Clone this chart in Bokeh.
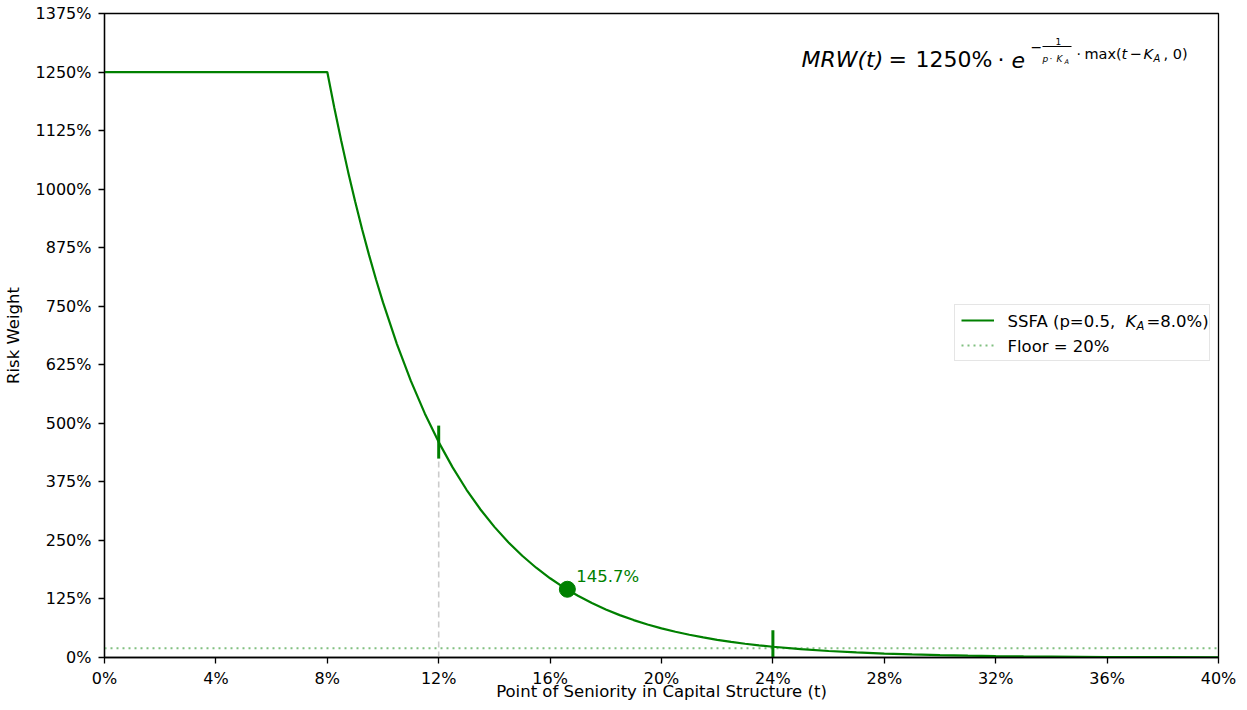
import math
from bokeh.plotting import figure
from bokeh.models import (Label, Legend, LegendItem, FixedTicker, PrintfTickFormatter,
                          BoxAnnotation, Range1d)
from bokeh.embed import file_html
from bokeh.resources import INLINE

# ---------------- data ----------------
t_pct = [0, 8, 8.25, 8.5, 8.75, 9, 9.25, 9.5, 9.75, 10, 10.5, 11, 11.5, 12, 12.5, 13,
         13.5, 14, 14.5, 15, 15.5, 16, 16.5, 17, 17.5, 18, 18.5, 19, 19.5, 20, 20.5,
         21, 21.5, 22, 22.5, 23, 23.5, 24, 25, 26, 27, 28, 29, 30, 31, 32, 33, 34,
         36, 38, 40]
rw_pct = [1250, 1250, 1174.3, 1103.1, 1036.3, 973.5, 914.5, 859.1, 807.0, 758.2, 669.1,
          590.5, 521.1, 459.9, 405.9, 358.1, 316.0, 278.9, 246.1, 217.2, 191.7, 169.2,
          149.3, 131.7, 116.3, 102.6, 90.5, 79.9, 70.5, 62.2, 54.9, 48.5, 42.8, 37.7,
          33.3, 29.4, 25.9, 22.9, 17.8, 13.9, 10.8, 8.4, 6.6, 5.1, 4.0, 3.1, 2.4, 1.9,
          1.1, 0.7, 0.4]
floor_rw = 20
x_extent = [0, 40]
tranche_t = [12, 24]          # attachment / detachment marks
tranche_rw = [459.9, 22.9]
point_t = [16.62]
point_rw = [145.7]
point_text = "145.7%"
x_ticks = [0, 4, 8, 12, 16, 20, 24, 28, 32, 36, 40]
y_ticks = [0, 125, 250, 375, 500, 625, 750, 875, 1000, 1125, 1250, 1375]

GREEN = "#008000"
FONT = "DejaVu Sans"

# ---------------- figure ----------------
FL, FT, FW, FH = 105, 14, 1114, 644   # frame in page px (for text placement helpers)
p = figure(frame_width=FW, frame_height=FH, min_border_left=97, min_border_right=20,
           min_border_top=13, min_border_bottom=40,
           x_range=Range1d(0, 40), y_range=Range1d(0, 1375),
           output_backend="svg", toolbar_location=None)
p.background_fill_color = "white"
p.border_fill_color = "white"
p.outline_line_color = "black"
p.outline_line_width = 1.3
p.xgrid.visible = False
p.ygrid.visible = False

def dx(px):
    return (px - FL) * 40.0 / FW

def dy(py):
    return (FT + FH - py) * 1375.0 / FH

for ax in (p.xaxis[0], p.yaxis[0]):
    ax.axis_line_width = 1.3
    ax.major_tick_line_width = 1.3
    ax.major_tick_out = 6
    ax.major_tick_in = 0
    ax.minor_tick_out = 0
    ax.minor_tick_in = 0
    ax.major_label_text_font = FONT
    ax.major_label_text_font_size = "16px"
    ax.major_label_text_color = "black"
    ax.axis_label_text_font = FONT
    ax.axis_label_text_font_size = "16.5px"
    ax.axis_label_text_font_style = "normal"
    ax.axis_label_text_color = "black"
    ax.formatter = PrintfTickFormatter(format="%d%%")

p.xaxis[0].ticker = FixedTicker(ticks=x_ticks)
p.yaxis[0].ticker = FixedTicker(ticks=y_ticks)
p.xaxis[0].axis_label = "Point of Seniority in Capital Structure (t)"
p.yaxis[0].axis_label = "Risk Weight"
p.xaxis[0].major_label_standoff = 5
p.xaxis[0].axis_label_standoff = -9
p.yaxis[0].major_label_standoff = 7
p.yaxis[0].axis_label_standoff = 10

# ---------------- glyphs ----------------
r_floor = p.line(x=x_extent, y=[floor_rw, floor_rw], line_color="#80c080", line_width=2,
                 line_dash="2 4")
p.segment(x0=[tranche_t[0]], y0=[0], x1=[tranche_t[0]], y1=[tranche_rw[0]],
          line_color="#cccccc", line_width=1.6, line_dash="6 4")
r_curve = p.line(x=t_pct, y=rw_pct, line_color=GREEN, line_width=2.2)
p.scatter(x=tranche_t, y=tranche_rw, marker="dash", angle=math.pi / 2, size=33,
          line_color=GREEN, line_width=3)
p.scatter(x=point_t, y=point_rw, marker="circle", size=16, fill_color=GREEN,
          line_color=GREEN)
p.add_layout(Label(x=point_t[0], y=point_rw[0], x_offset=9, y_offset=13, text=point_text,
                   text_font=FONT, text_font_size="16.5px", text_color=GREEN,
                   text_baseline="middle"))

# ---------------- legend (glyph samples by Bokeh, texts overlaid) ----------------
legend = Legend(items=[LegendItem(label=" ", renderers=[r_curve]),
                       LegendItem(label=" ", renderers=[r_floor])],
                location=(850, 296), glyph_width=33, glyph_height=18, label_height=18,
                label_width=195, label_standoff=14, padding=6, spacing=7, margin=0,
                border_line_color="#cccccc", border_line_width=1,
                background_fill_alpha=0.0, label_text_font_size="16.5px")
p.add_layout(legend)

def txt(s, px, py, size, style="normal", color="black"):
    # py is the intended text baseline (page px); place by the middle of the em box
    ymid = py - 0.36 * size
    p.add_layout(Label(x=dx(px), y=dy(ymid), text=s, text_font=FONT,
                       text_font_size=f"{size}px", text_font_style=style,
                       text_color=color, text_baseline="middle", text_align="left",
                       level="overlay"))

txt("SSFA (p=0.5, ", 1008, 328, 16.5)
txt("K", 1126, 328, 16.5, "italic")
txt("A", 1137, 331, 11.5, "italic")
txt("=8.0%)", 1147, 328, 16.5)
txt("Floor = 20%", 1008, 353, 16.5)

# ---------------- formula ----------------
txt("MRW(t)", 802, 68, 22, "italic")
txt("=", 889, 68, 22)
txt("1250%", 916, 68, 22)
txt("\u00b7", 998, 68, 22)
txt("e", 1012, 68, 22, "italic")
txt("\u2212", 1031, 53, 14)
txt("1", 1056, 45, 9)
p.add_layout(BoxAnnotation(left=dx(1043), right=dx(1072), top=dy(46.5), bottom=dy(47.5),
                           fill_color="black", fill_alpha=1, line_alpha=0, level="overlay"))
txt("p", 1043, 63, 9, "italic")
txt("\u00b7", 1050, 63, 9)
txt("K", 1057, 63, 9, "italic")
txt("A", 1065, 64.5, 6.5, "italic")
txt("\u00b7", 1077, 59.5, 14)
txt("max(", 1085, 59.5, 14.5)
txt("t", 1122, 59.5, 14.5, "italic")
txt("\u2212", 1130, 59.5, 14.5)
txt("K", 1144, 59.5, 14.5, "italic")
txt("A", 1154, 62.5, 10, "italic")
txt(", 0)", 1164, 59.5, 14.5)

open("out.html", "w").write(file_html(p, INLINE))
